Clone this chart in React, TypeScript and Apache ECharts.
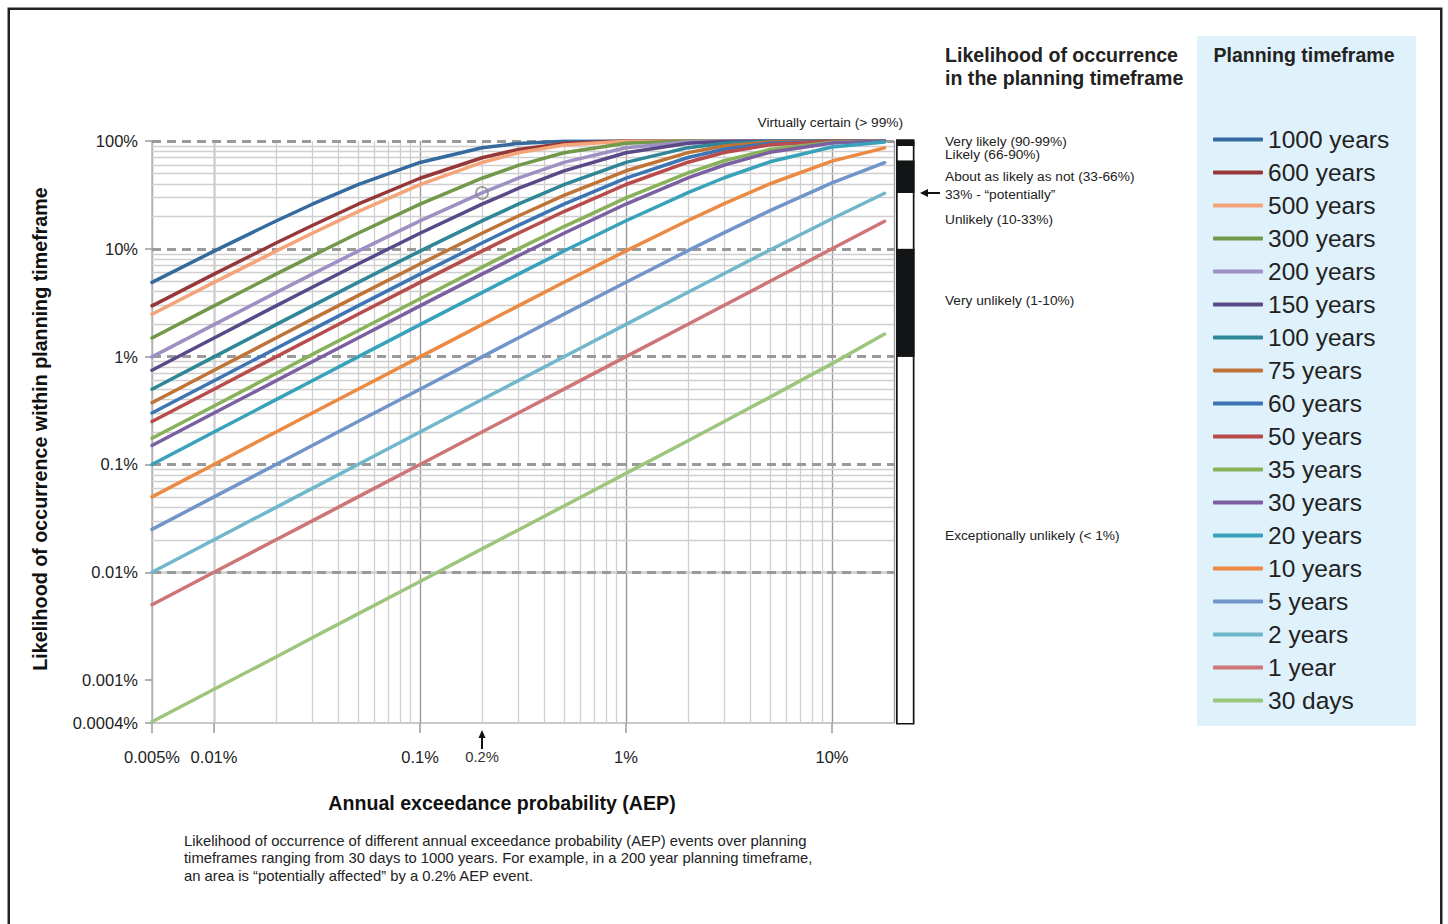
import { useEffect, useRef } from 'react';
import * as echarts from 'echarts';

// ---------- data ----------
const AEP = [0.005, 0.01, 0.02, 0.03, 0.05, 0.1, 0.2, 0.3, 0.5, 1, 2, 3, 5, 10, 18];

const TIMEFRAMES = [
  '1000 years', '600 years', '500 years', '300 years', '200 years', '150 years',
  '100 years', '75 years', '60 years', '50 years', '35 years', '30 years',
  '20 years', '10 years', '5 years', '2 years', '1 year', '30 days',
];

const COLORS = [
  '#356a9e', '#973838', '#f5a47a', '#72994a', '#9e90c3', '#5a4987',
  '#2f8696', '#c07337', '#3d74b4', '#b84b4b', '#88b259', '#7a60a0',
  '#38a2ba', '#ec8a43', '#7295c9', '#71b7cc', '#ce7676', '#9cc67d',
];

const Y_1000 = [4.88, 9.52, 18.13, 25.92, 39.35, 63.23, 86.49, 95.04, 99.33, 99.996, 100, 100, 100, 100, 100];
const Y_600 = [2.96, 5.82, 11.31, 16.47, 25.92, 45.14, 69.92, 83.52, 95.06, 99.76, 100, 100, 100, 100, 100];
const Y_500 = [2.47, 4.88, 9.52, 13.93, 22.12, 39.36, 63.25, 77.74, 91.84, 99.34, 100, 100, 100, 100, 100];
const Y_300 = [1.49, 2.96, 5.82, 8.61, 13.93, 25.93, 45.15, 59.4, 77.77, 95.1, 99.77, 99.99, 100, 100, 100];
const Y_200 = [0.995, 1.98, 3.92, 5.82, 9.52, 18.14, 32.99, 45.17, 63.3, 86.6, 98.24, 99.77, 100, 100, 100];
const Y_150 = [0.747, 1.49, 2.96, 4.4, 7.23, 13.94, 25.94, 36.28, 52.85, 77.85, 95.17, 98.96, 99.95, 100, 100];
const Y_100 = [0.499, 0.995, 1.98, 2.96, 4.88, 9.52, 18.14, 25.95, 39.42, 63.4, 86.74, 95.25, 99.41, 100, 100];
const Y_75 = [0.374, 0.747, 1.49, 2.23, 3.68, 7.23, 13.94, 20.17, 31.34, 52.94, 78.02, 89.82, 97.87, 99.96, 100];
const Y_60 = [0.3, 0.598, 1.19, 1.78, 2.96, 5.83, 11.32, 16.5, 25.97, 45.28, 70.25, 83.92, 95.39, 99.82, 100];
const Y_50 = [0.25, 0.499, 0.995, 1.49, 2.47, 4.88, 9.53, 13.95, 22.17, 39.5, 63.58, 78.19, 92.31, 99.48, 100];
const Y_35 = [0.175, 0.349, 0.698, 1.05, 1.74, 3.44, 6.77, 9.98, 16.09, 29.66, 50.69, 65.56, 83.39, 97.5, 99.9];
const Y_30 = [0.15, 0.3, 0.598, 0.896, 1.49, 2.96, 5.83, 8.62, 13.96, 26.03, 45.45, 59.9, 78.54, 95.76, 99.74];
const Y_20 = [0.1, 0.2, 0.399, 0.598, 0.995, 1.98, 3.92, 5.83, 9.54, 18.21, 33.24, 45.62, 64.15, 87.84, 98.11];
const Y_10 = [0.05, 0.1, 0.2, 0.3, 0.499, 0.995, 1.98, 2.96, 4.89, 9.56, 18.29, 26.26, 40.13, 65.13, 86.26];
const Y_5 = [0.025, 0.05, 0.1, 0.15, 0.25, 0.499, 0.996, 1.49, 2.48, 4.9, 9.61, 14.13, 22.62, 40.95, 62.93];
const Y_2 = [0.01, 0.02, 0.04, 0.06, 0.1, 0.2, 0.4, 0.599, 0.998, 1.99, 3.96, 5.91, 9.75, 19.0, 32.76];
const Y_1 = [0.005, 0.01, 0.02, 0.03, 0.05, 0.1, 0.2, 0.3, 0.5, 1.0, 2.0, 3.0, 5.0, 10.0, 18.0];
const Y_30D = [0.000411, 0.000822, 0.00164, 0.00247, 0.00411, 0.00822, 0.0165, 0.0247, 0.0412, 0.0826, 0.166, 0.25, 0.421, 0.862, 1.62];

const SERIES_VALUES = [
  Y_1000, Y_600, Y_500, Y_300, Y_200, Y_150, Y_100, Y_75, Y_60, Y_50,
  Y_35, Y_30, Y_20, Y_10, Y_5, Y_2, Y_1, Y_30D,
];

// axis ranges and tick values
const X_MIN = 0.005;
const X_MAX = 20;
const Y_MIN = 0.0004;
const Y_MAX = 100;
const Y_MAJOR = [0.001, 0.01, 0.1, 1, 10, 100];
const X_MINOR = [
  0.006, 0.007, 0.008, 0.009,
  0.02, 0.03, 0.04, 0.05, 0.06, 0.07, 0.08, 0.09,
  0.2, 0.3, 0.4, 0.5, 0.6, 0.7, 0.8, 0.9,
  2, 3, 4, 5, 6, 7, 8, 9,
];
const Y_MINOR = [
  0.0005, 0.0006, 0.0007, 0.0008, 0.0009,
  0.002, 0.003, 0.004, 0.005, 0.006, 0.007, 0.008, 0.009,
  0.02, 0.03, 0.04, 0.05, 0.06, 0.07, 0.08, 0.09,
  0.2, 0.3, 0.4, 0.5, 0.6, 0.7, 0.8, 0.9,
  2, 3, 4, 5, 6, 7, 8, 9,
  20, 30, 40, 50, 60, 70, 80, 90,
];

// highlighted example: 200 year timeframe, 0.2% AEP
const HIGHLIGHT_AEP = 0.2;
const HIGHLIGHT_LIKELIHOOD = 32.99;

// likelihood bands for the black/white bar (kind 0 = frame, 1 = black, 2 = white)
const BAND_LOW = [0.0004, 0.0004, 1, 10, 33, 66, 90];
const BAND_HIGH = [100, 1, 10, 33, 66, 90, 100];
const BAND_KIND = [0, 2, 1, 2, 1, 2, 1];

const FONT = '"Liberation Sans", Arial, Helvetica, sans-serif';

const fmtPct = (v: number) => `${+Number(v).toPrecision(6)}%`;

function buildGraphics(px: number, axisY: number) {
  const txt = (text: string, x: number, y: number, size: number, extra: any = {}) => ({
    type: 'text',
    x,
    y,
    silent: true,
    style: {
      text,
      fontSize: size,
      fontFamily: FONT,
      fill: '#222',
      align: 'left',
      verticalAlign: 'middle',
      ...extra,
    },
  });
  return [
    // outer frame
    {
      type: 'rect',
      silent: true,
      shape: { x: 8.75, y: 8.75, width: 1432.5, height: 1000 },
      style: { fill: 'none', stroke: '#222', lineWidth: 2.5 },
    },
    // legend panel background
    {
      type: 'rect',
      silent: true,
      z: -1,
      shape: { x: 1197, y: 36, width: 219, height: 690 },
      style: { fill: '#dff1fb' },
    },
    txt('Planning timeframe', 1304, 55, 19.5, { fontWeight: 'bold', align: 'center' }),
    txt('Likelihood of occurrence', 945, 55, 19.6, { fontWeight: 'bold' }),
    txt('in the planning timeframe', 945, 78, 19.6, { fontWeight: 'bold' }),
    // likelihood annotations
    txt('Virtually certain (> 99%)', 903, 122, 13.7, { align: 'right' }),
    txt('Very likely (90-99%)', 945, 141, 13.7),
    txt('Likely (66-90%)', 945, 154, 13.7),
    txt('About as likely as not (33-66%)', 945, 176, 13.7),
    txt('33% - \u201cpotentially\u201d', 945, 194, 13.7),
    txt('Unlikely (10-33%)', 945, 219, 13.7),
    txt('Very unlikely (1-10%)', 945, 300, 13.7),
    txt('Exceptionally unlikely (< 1%)', 945, 535, 13.7),
    // arrow pointing at the 33% threshold
    {
      type: 'line',
      silent: true,
      shape: { x1: 926, y1: 193, x2: 940, y2: 193 },
      style: { stroke: '#111', lineWidth: 2 },
    },
    {
      type: 'polygon',
      silent: true,
      shape: { points: [[920, 193], [928, 189], [928, 197]] },
      style: { fill: '#111' },
    },
    // axis titles
    {
      type: 'text',
      x: 40,
      y: 429,
      rotation: Math.PI / 2,
      silent: true,
      style: {
        text: 'Likelihood of occurrence within planning timeframe',
        fontSize: 19.7,
        fontWeight: 'bold',
        fontFamily: FONT,
        fill: '#111',
        align: 'center',
        verticalAlign: 'middle',
      },
    },
    txt('Annual exceedance probability (AEP)', 502, 803, 19.6, {
      fontWeight: 'bold',
      align: 'center',
      fill: '#111',
    }),
    // caption
    {
      type: 'text',
      x: 184,
      y: 832,
      silent: true,
      style: {
        text:
          'Likelihood of occurrence of different annual exceedance probability (AEP) events over planning\n' +
          'timeframes ranging from 30 days to 1000 years. For example, in a 200 year planning timeframe,\n' +
          'an area is \u201cpotentially affected\u201d by a 0.2% AEP event.',
        fontSize: 14.8,
        lineHeight: 17.5,
        fontFamily: FONT,
        fill: '#222',
        align: 'left',
        verticalAlign: 'top',
      },
    },
    // 0.2% marker under the axis
    {
      type: 'line',
      silent: true,
      shape: { x1: px, y1: axisY + 13, x2: px, y2: axisY + 26 },
      style: { stroke: '#111', lineWidth: 2 },
    },
    {
      type: 'polygon',
      silent: true,
      shape: { points: [[px, axisY + 7], [px - 3.5, axisY + 15], [px + 3.5, axisY + 15]] },
      style: { fill: '#111' },
    },
    txt(fmtPct(HIGHLIGHT_AEP), px, axisY + 34, 14.8, { align: 'center', fill: '#333' }),
  ];
}

function buildOption() {
  const minorStyle = { color: '#cfcfcf', width: 1.3, type: 'solid' };
  const majorStyle = { color: '#9a9a9a', width: 2.8, type: [9, 6] };

  const curves = TIMEFRAMES.map((name, i) => ({
    type: 'line',
    name,
    xAxisIndex: 0,
    yAxisIndex: 0,
    data: AEP.map((x, j) => [x, SERIES_VALUES[i][j]]),
    showSymbol: false,
    symbol: 'none',
    smooth: false,
    silent: true,
    z: 3,
    lineStyle: { color: COLORS[i], width: 3.5, cap: 'round', join: 'round' },
    itemStyle: { color: COLORS[i] },
  }));

  return {
    animation: false,
    textStyle: { fontFamily: FONT },
    grid: [
      { left: 152, top: 141, width: 742, height: 582, outerBoundsMode: 'none', containLabel: false },
      { left: 896, top: 141, width: 18.5, height: 582, outerBoundsMode: 'none', containLabel: false },
    ],
    xAxis: [
      {
        type: 'log',
        logBase: 10,
        gridIndex: 0,
        min: X_MIN,
        max: X_MAX,
        axisLine: { show: true, lineStyle: { color: '#b8b8b8', width: 1.5 } },
        axisTick: { show: true, length: 10, lineStyle: { color: '#9a9a9a', width: 1.5 } },
        axisLabel: {
          formatter: (v: number) => fmtPct(v),
          fontSize: 16.5,
          color: '#222',
          margin: 25,
          showMinLabel: true,
          showMaxLabel: false,
        },
        splitLine: { show: true, lineStyle: { color: '#9a9a9a', width: 1.4 } },
        minorTick: { show: false },
        minorSplitLine: { show: false },
      },
      { type: 'value', gridIndex: 1, min: 0, max: 1, show: false },
    ],
    yAxis: [
      {
        type: 'log',
        logBase: 10,
        gridIndex: 0,
        min: Y_MIN,
        max: Y_MAX,
        axisLine: { show: true, lineStyle: { color: '#b8b8b8', width: 1.5 } },
        axisTick: { show: true, length: 7, lineStyle: { color: '#9a9a9a', width: 1.5 } },
        axisLabel: {
          formatter: (v: number) => fmtPct(v),
          fontSize: 16.5,
          color: '#222',
          margin: 14,
          showMinLabel: true,
          showMaxLabel: true,
        },
        splitLine: { show: false },
        minorTick: { show: false },
        minorSplitLine: { show: false },
      },
      { type: 'log', logBase: 10, gridIndex: 1, min: Y_MIN, max: Y_MAX, show: false },
    ],
    legend: {
      data: TIMEFRAMES,
      orient: 'vertical',
      left: 1213,
      top: 127,
      padding: 0,
      itemWidth: 50,
      itemHeight: 4,
      itemGap: 8,
      icon: 'roundRect',
      selectedMode: false,
      textStyle: { fontSize: 24.5, lineHeight: 24, color: '#222', fontFamily: FONT },
    },
    series: [
      {
        type: 'line',
        name: 'grid',
        xAxisIndex: 0,
        yAxisIndex: 0,
        data: [[X_MIN, Y_MIN]],
        showSymbol: false,
        symbol: 'none',
        lineStyle: { opacity: 0 },
        silent: true,
        z: 1,
        markLine: {
          silent: true,
          z: 1,
          symbol: ['none', 'none'],
          label: { show: false },
          emphasis: { disabled: true },
          animation: false,
          data: [
            ...X_MINOR.map((v) => ({ xAxis: v, lineStyle: minorStyle })),
            ...Y_MINOR.map((v) => ({ yAxis: v, lineStyle: minorStyle })),
            ...Y_MAJOR.map((v) => ({ yAxis: v, lineStyle: majorStyle })),
          ],
        },
      },
      ...curves,
      {
        type: 'scatter',
        name: 'example',
        xAxisIndex: 0,
        yAxisIndex: 0,
        z: 4,
        silent: true,
        data: [[HIGHLIGHT_AEP, HIGHLIGHT_LIKELIHOOD]],
        symbol: 'circle',
        symbolSize: 12,
        itemStyle: { color: 'rgba(255,255,255,0)', borderColor: '#8a8a8a', borderWidth: 1.8 },
      },
      {
        type: 'custom',
        name: 'bands',
        xAxisIndex: 1,
        yAxisIndex: 1,
        silent: true,
        clip: false,
        z: 3,
        data: BAND_LOW.map((lo, i) => [lo, BAND_HIGH[i], BAND_KIND[i]]),
        renderItem: (_params: any, api: any) => {
          const lo = api.value(0);
          const hi = api.value(1);
          const kind = api.value(2);
          const p1 = api.coord([0, hi]);
          const p2 = api.coord([1, lo]);
          let x = p1[0];
          let y = p1[1];
          let w = p2[0] - p1[0];
          let h = p2[1] - p1[1];
          let fill = '#121415';
          if (kind === 0) {
            y -= 1.8;
            h += 3.4;
          } else if (kind === 2) {
            x += 1.7;
            w -= 3.4;
            fill = '#ffffff';
          }
          return { type: 'rect', shape: { x, y, width: w, height: h }, style: { fill } };
        },
      },
    ],
  };
}

export default function App() {
  const ref = useRef<HTMLDivElement>(null);
  useEffect(() => {
    if (!ref.current) return;
    const chart = echarts.init(ref.current, null, { renderer: 'svg' });
    chart.setOption(buildOption() as any);
    const px = chart.convertToPixel({ xAxisIndex: 0 }, HIGHLIGHT_AEP) as unknown as number;
    const axisY = chart.convertToPixel({ yAxisIndex: 0 }, Y_MIN) as unknown as number;
    chart.setOption({ graphic: buildGraphics(px, axisY) } as any);
    return () => chart.dispose();
  }, []);
  return (
    <div
      ref={ref}
      style={{ position: 'absolute', left: 0, top: 0, width: 1448, height: 924, background: '#fff' }}
    />
  );
}
